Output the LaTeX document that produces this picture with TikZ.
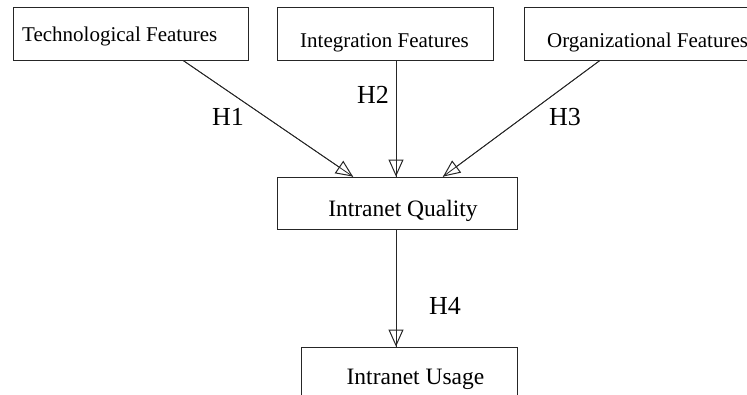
\documentclass[tikz,border=0pt]{standalone}
\usepackage{fontspec}
\setmainfont{Liberation Serif}
\usetikzlibrary{arrows.meta}
\begin{document}
\begin{tikzpicture}[x=1pt,y=1pt,
  box/.style={draw=black!85, line width=0.8pt, rectangle, inner sep=0pt, anchor=center},
  toptext/.style={inner sep=0pt, font=\fontsize{21}{25}\selectfont},
  midtext/.style={inner sep=0pt, font=\fontsize{23.5}{28}\selectfont},
  hlabel/.style={inner sep=0pt, anchor=base, font=\fontsize{26}{30}\selectfont},
  conn/.style={line width=0.8pt, draw=black!85},
  tip/.style={-{Triangle[open, length=17pt, width=15pt, line width=1pt]}}
]
\useasboundingbox (0,0) rectangle (747,394);
% boxes
\node[box, minimum width=235pt, minimum height=53pt] (b1) at (130.5,360.5) {};
\node[box, minimum width=216pt, minimum height=53pt] (b2) at (385,360.5) {};
\node[box, minimum width=246pt, minimum height=53pt] (b3) at (647,360.5) {};
\node[box, minimum width=240pt, minimum height=52pt] (q) at (397,191) {};
\node[box, minimum width=216pt, minimum height=73pt] (u) at (409,10.5) {};
% texts
\node[toptext, anchor=base west] (t1) at (22,352) {Technological Features};
\node[toptext, anchor=base] (t2) at (384.5,346) {Integration Features};
\node[toptext, anchor=base west] (t3) at (547,346) {Organizational Features};
\node[midtext, anchor=base] (tq) at (403,177) {Intranet Quality};
\node[midtext, anchor=base] (tu) at (415.5,10) {Intranet Usage};
% connectors
\draw[conn] ([xshift=52.5pt]b1.south) -- ([xshift=-44pt]q.north);
\draw[conn,tip] ([xshift=52.5pt]b1.south) -- ([xshift=-44pt]q.north);
\draw[conn] ([xshift=11pt]b2.south) -- ([xshift=-1pt]q.north);
\draw[conn,tip] ([xshift=11pt]b2.south) -- ([xshift=-1pt]q.north);
\draw[conn] ([xshift=-47pt]b3.south) -- ([xshift=46pt]q.north);
\draw[conn,tip] ([xshift=-47pt]b3.south) -- ([xshift=46pt]q.north);
\draw[conn] ([xshift=-1pt]q.south) -- ([xshift=-13pt]u.north);
\draw[conn,tip] ([xshift=-1pt]q.south) -- ([xshift=-13pt]u.north);
% labels
\node[hlabel] (h1) at (228,268) {H1};
\node[hlabel] (h2) at (373,290) {H2};
\node[hlabel] (h3) at (565,268) {H3};
\node[hlabel] (h4) at (445,80) {H4};
\end{tikzpicture}
\end{document}
